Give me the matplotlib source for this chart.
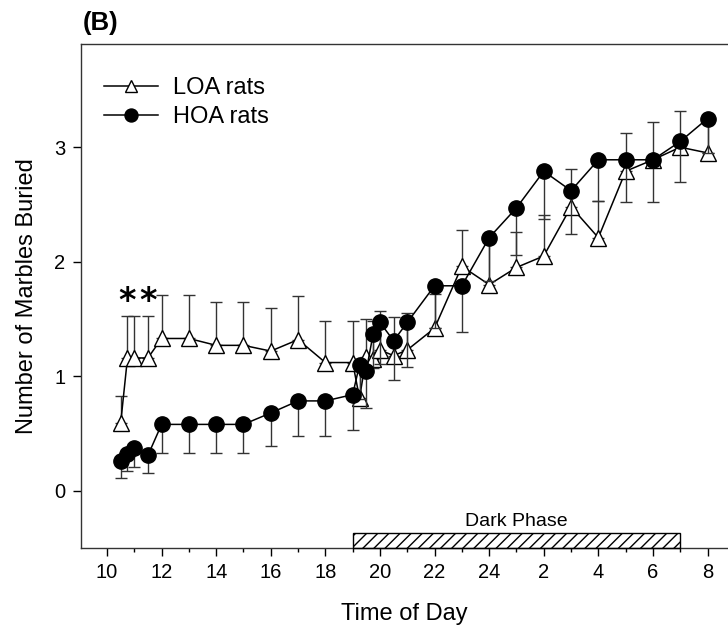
import numpy as np
import matplotlib
matplotlib.use("Agg")
import matplotlib.pyplot as plt
from matplotlib.patches import Rectangle

plt.rcParams["font.family"] = ["Liberation Sans", "DejaVu Sans"]

# horas continuas (25 = 1h da manha do dia seguinte)
horas = [10.5, 10.75, 11, 11.5, 12, 13, 14, 15, 16, 17, 18, 19, 19.25, 19.5,
         19.75, 20, 20.5, 21, 22, 23, 24, 25, 26, 27, 28, 29, 30, 31, 32]

loa_media = [0.59, 1.16, 1.16, 1.16, 1.33, 1.33, 1.27, 1.27, 1.22, 1.32, 1.12,
             1.12, 0.81, 1.17, 1.15, 1.23, 1.18, 1.23, 1.42, 1.96, 1.80, 1.95,
             2.05, 2.48, 2.21, 2.79, 2.89, 3.00, 2.95]
loa_erro = [0.24, 0.37, 0.37, 0.37, 0.38, 0.38, 0.38, 0.38, 0.38, 0.38, 0.36,
            0.36, 0.30, 0.33, 0.33, 0.34, 0.34, 0.32, 0.30, 0.32, 0.40, 0.31,
            0.36, 0.33, 0.32, 0.33, 0.33, 0.32, 0.28]

hoa_media = [0.26, 0.32, 0.37, 0.31, 0.58, 0.58, 0.58, 0.58, 0.68, 0.785, 0.785,
             0.84, 1.10, 1.05, 1.37, 1.47, 1.31, 1.47, 1.79, 1.79, 2.21, 2.47,
             2.79, 2.62, 2.89, 2.89, 2.89, 3.05, 3.25]
hoa_erro = [0.15, 0.15, 0.16, 0.15, 0.25, 0.25, 0.25, 0.25, 0.29, 0.305, 0.305,
            0.31, 0.30, 0.33, 0.30, 0.36, 0.34, 0.39, 0.37, 0.40, 0.38, 0.41,
            0.42, 0.38, 0.36, 0.37, 0.37, 0.35, 0.30]

ticks_x = [10, 12, 14, 16, 18, 20, 22, 24, 26, 28, 30, 32]
rotulos_x = ["10", "12", "14", "16", "18", "20", "22", "24", "2", "4", "6", "8"]

asteriscos_x = [10.75, 11.5]
asteriscos_y = [1.65, 1.65]

fase_escura = (19, 31)

fig = plt.figure(figsize=(7.28, 6.30), dpi=100)
ax = fig.add_axes([0.111, 0.130, 0.889, 0.800])

zeros = np.zeros(len(horas))

# LOA: barras de erro so para cima
ax.errorbar(horas, loa_media, yerr=[zeros, loa_erro], fmt="none",
            ecolor="#333333", elinewidth=1, capsize=4, capthick=1, zorder=1)
ax.plot(horas, loa_media, color="black", lw=1.1, marker="^", ms=11,
        mfc="white", mec="black", mew=1, zorder=2, label="LOA rats")

# HOA: barras de erro so para baixo
ax.errorbar(horas, hoa_media, yerr=[hoa_erro, zeros], fmt="none",
            ecolor="#333333", elinewidth=1, capsize=4, capthick=1, zorder=3)
ax.plot(horas, hoa_media, color="black", lw=1.1, marker="o", ms=11,
        mfc="black", mec="black", zorder=4, label="HOA rats")

for x, y in zip(asteriscos_x, asteriscos_y):
    ax.text(x, y, "*", fontsize=24, fontweight="bold", ha="center",
            va="center", family="DejaVu Sans")

# barra da fase escura
ax.add_patch(Rectangle((fase_escura[0], -0.5), fase_escura[1] - fase_escura[0],
                       0.135, fill=False, hatch="///", edgecolor="black",
                       lw=1, clip_on=False, zorder=5))
ax.text((fase_escura[0] + fase_escura[1]) / 2, -0.34, "Dark Phase",
        fontsize=14, ha="center", va="bottom")

ax.set_xlim(9.04, 32.75)
ax.set_ylim(-0.5, 3.9)
ax.set_xticks(ticks_x)
ax.set_xticklabels(rotulos_x)
ax.set_xticks(np.arange(11, 33, 2), minor=True)
ax.set_yticks([0, 1, 2, 3])
ax.tick_params(axis="both", which="major", direction="out", length=6,
               width=1, labelsize=14.5, pad=5)
ax.tick_params(axis="x", which="minor", direction="out", length=3, width=1)
ax.spines["right"].set_visible(False)
for s in ["left", "bottom", "top"]:
    ax.spines[s].set_color("#333333")
    ax.spines[s].set_linewidth(1)

ax.set_xlabel("Time of Day", fontsize=17, labelpad=15)
ax.set_ylabel("Number of Marbles Buried", fontsize=17, labelpad=12)

ax.legend(loc="upper left", bbox_to_anchor=(0.036, 0.935), frameon=False,
          fontsize=17, borderpad=0, borderaxespad=0, handlelength=2.3,
          handletextpad=0.6, labelspacing=0.3, markerscale=0.85)

fig.text(0.113, 0.945, "(B)", fontsize=18.5, fontweight="bold", ha="left",
         va="bottom")

plt.savefig("out.png", dpi=100)
